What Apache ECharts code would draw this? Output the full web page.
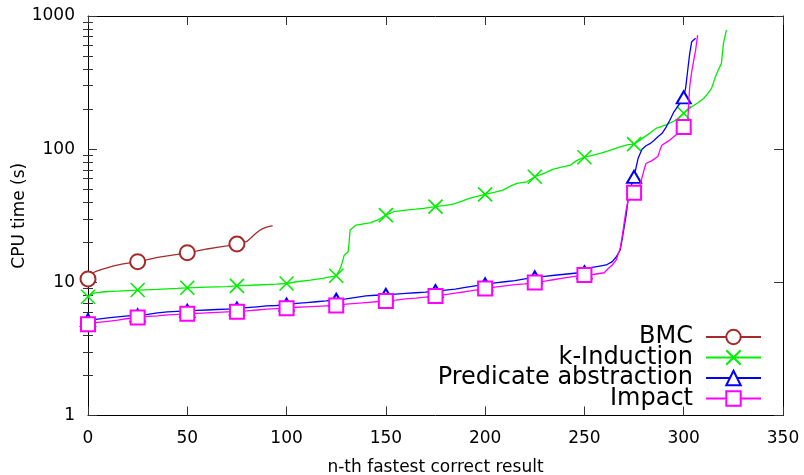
<!DOCTYPE html>
<html>
<head>
<meta charset="utf-8">
<script src="https://cdn.jsdelivr.net/npm/echarts@6/dist/echarts.min.js"></script>
<style>
html,body{margin:0;padding:0;background:#fff;}
#chart{width:804px;height:475px;}
</style>
</head>
<body>
<div id="chart"></div>
<script>
// ---- data (n-th result, CPU time in s) ----
const seriesNames = ['BMC', 'k-Induction', 'Predicate abstraction', 'Impact'];
const bmc = [[0,10.6],[2,11.6],[4,12.1],[7,12.5],[10,12.9],[13,13.3],[17,13.7],[21,14.0],[25,14.3],[30,14.8],[35,15.4],[40,15.8],[45,16.2],[50,16.7],[55,17.2],[60,17.8],[65,18.3],[70,18.8],[75,19.4],[78,19.9],[80,20.3],[82,21.5],[84,23.0],[86,24.3],[88,25.3],[90,26.0],[92,26.4],[93,26.5]];
const kInduction = [[0,7.8],[3,8.3],[8,8.5],[15,8.6],[25,8.75],[35,8.85],[45,9.0],[50,9.1],[60,9.2],[70,9.3],[75,9.4],[85,9.55],[95,9.7],[100,9.8],[105,10.1],[112,10.4],[118,10.7],[122,11.0],[125,11.2],[127,12.7],[128,14],[129,16],[131,17],[131.5,20],[132,24.7],[135,26.9],[142,28],[146,29.4],[150,32],[154,33.9],[160,34.8],[165,35.4],[169,35.9],[175,37],[180,37.8],[184,38.7],[188,40.5],[192,42.7],[200,45.8],[205,47.5],[209,49.3],[213,53],[216,55.3],[221,56.9],[225,62.1],[230,66],[234,70.5],[238,73],[243,76],[246,82],[250,87],[254,90],[258,93],[262,97],[268,104],[272,108],[275,109],[279,120],[283,132],[286,143],[291,152],[295,162],[297,170],[300,186],[304,208],[307,222],[310,240],[312,260],[314,286],[316,350],[317,381],[319,441],[320,623],[321.5,784]];
const predAbs = [[0,5.2],[5,5.3],[10,5.4],[15,5.5],[20,5.6],[25,5.65],[30,5.75],[35,5.9],[40,6.0],[45,6.05],[50,6.1],[55,6.15],[60,6.2],[65,6.25],[70,6.3],[75,6.35],[80,6.45],[85,6.55],[90,6.65],[95,6.7],[100,6.8],[105,6.95],[110,7.05],[115,7.15],[120,7.25],[125,7.4],[130,7.5],[135,7.7],[140,7.9],[145,8.0],[150,8.05],[155,8.15],[160,8.25],[165,8.35],[170,8.45],[175,8.6],[180,8.75],[185,8.9],[190,9.15],[195,9.4],[200,9.65],[205,9.9],[210,10.1],[215,10.3],[220,10.6],[225,10.9],[230,11.1],[235,11.3],[240,11.5],[245,11.7],[250,11.9],[253,12.9],[257,13.2],[261,13.5],[264,14.3],[266,15.5],[268,17.5],[269,21],[270,26],[271,32],[272,42],[273,50],[275,62],[277,85],[279,100],[281,106],[283,110],[285,116],[287,124],[289,131],[291,145],[293,165],[295,190],[297,210],[299,230],[300,245],[301,290],[302,390],[303,520],[304,640],[306,680]];
const impact = [[0,4.85],[5,5.0],[10,5.1],[15,5.2],[20,5.35],[25,5.45],[30,5.55],[35,5.6],[40,5.7],[45,5.75],[50,5.8],[55,5.85],[60,5.9],[65,5.95],[70,6.0],[75,6.02],[80,6.1],[85,6.2],[90,6.3],[95,6.35],[100,6.4],[105,6.5],[110,6.55],[115,6.6],[120,6.65],[125,6.7],[130,6.85],[135,6.95],[140,7.05],[145,7.15],[150,7.25],[155,7.35],[160,7.5],[165,7.6],[170,7.75],[175,7.9],[180,8.1],[185,8.3],[190,8.5],[195,8.75],[200,9.0],[205,9.2],[210,9.4],[215,9.6],[220,9.75],[225,9.95],[230,10.2],[235,10.5],[240,10.8],[245,11.1],[250,11.35],[255,11.5],[260,11.8],[262,12.7],[264,13.5],[266,14.7],[268,18],[269,22],[270,28],[271,35],[272,41.5],[275,47],[278,53.8],[280,69.7],[281,78],[284,82],[287,88],[288,98],[289,107],[291,112],[293,117],[295,124],[297,131],[300,147],[302,160],[303,294],[304,380],[305,460],[306,555],[307,719]];
const xTicks = [0, 50, 100, 150, 200, 250, 300, 350];
const yTicks = [1, 10, 100, 1000];
const yMinorTicks = [2,3,4,5,6,7,8,9,20,30,40,50,60,70,80,90,200,300,400,500,600,700,800,900];
const markerEvery = 25;

// ---- styling ----
const FONT = 'DejaVu Sans';
const colors = ['#a52a2a', '#00ee00', '#0000ff', '#ff00ff'];
const symbols = ['emptyCircle', 'path://M0,0L10,10M0,10L10,0', 'emptyTriangle', 'emptyRect'];
const symbolSizes = [15, 14, [14, 12], 14];
const datasets = [bmc, kInduction, predAbs, impact];

function toData(arr) {
  return arr.map(p => (p[0] % markerEvery === 0) ? {value: p} : {value: p, symbol: 'none'});
}

const tickStyle = {color: '#333', width: 1};
const series = datasets.map((d, i) => ({
  name: seriesNames[i],
  type: 'line',
  xAxisIndex: 0,
  yAxisIndex: 0,
  data: toData(d),
  symbol: symbols[i],
  symbolSize: symbolSizes[i],
  showSymbol: true,
  lineStyle: {color: colors[i], width: 1.3},
  itemStyle: {color: colors[i], borderColor: colors[i], borderWidth: 1.6},
  emphasis: {disabled: true},
  animation: false,
  z: 2 + i
}));

const minorLog = yMinorTicks.map(v => Math.log10(v));

const option = {
  animation: false,
  grid: {left: 88, right: 21, top: 16, bottom: 59.5, containLabel: false, outerBoundsMode: 'none'},
  xAxis: [
    {type: 'value', min: xTicks[0], max: xTicks[xTicks.length - 1], interval: 50, position: 'bottom',
     axisLine: {show: true, onZero: false, lineStyle: {color: '#000', width: 1}},
     axisTick: {show: true, inside: true, length: 9, lineStyle: tickStyle},
     axisLabel: {color: '#000', fontFamily: FONT, fontSize: 17, margin: 15},
     splitLine: {show: false},
     name: 'n-th fastest correct result', nameLocation: 'middle', nameGap: 44, nameMoveOverlap: false,
     nameTextStyle: {color: '#000', fontFamily: FONT, fontSize: 17}},
    {type: 'value', min: xTicks[0], max: xTicks[xTicks.length - 1], interval: 50, position: 'top',
     axisLine: {show: true, onZero: false, lineStyle: {color: '#000', width: 1}},
     axisTick: {show: true, inside: true, length: 9, lineStyle: tickStyle},
     axisLabel: {show: false}, splitLine: {show: false}}
  ],
  yAxis: [
    {type: 'log', logBase: 10, min: yTicks[0], max: yTicks[yTicks.length - 1], position: 'left',
     axisLine: {show: true, onZero: false, lineStyle: {color: '#000', width: 1}},
     axisTick: {show: true, inside: true, length: 9, lineStyle: tickStyle},
     axisLabel: {color: '#000', fontFamily: FONT, fontSize: 17, margin: 13, formatter: v => String(Math.round(v))},
     splitLine: {show: false}, minorTick: {show: false},
     name: 'CPU time (s)', nameLocation: 'middle', nameGap: 60, nameRotate: 90, nameMoveOverlap: false,
     nameTextStyle: {color: '#000', fontFamily: FONT, fontSize: 17}},
    {type: 'log', logBase: 10, min: yTicks[0], max: yTicks[yTicks.length - 1], position: 'right',
     axisLine: {show: true, onZero: false, lineStyle: {color: '#000', width: 1}},
     axisTick: {show: true, inside: true, length: 9, lineStyle: tickStyle},
     axisLabel: {show: false}, splitLine: {show: false}},
    {type: 'value', min: 0, max: 3, position: 'left',
     axisLine: {show: false},
     axisTick: {show: true, inside: true, length: 5, lineStyle: tickStyle, customValues: minorLog},
     axisLabel: {show: false}, splitLine: {show: false}},
    {type: 'value', min: 0, max: 3, position: 'right',
     axisLine: {show: false},
     axisTick: {show: true, inside: true, length: 5, lineStyle: tickStyle, customValues: minorLog},
     axisLabel: {show: false}, splitLine: {show: false}}
  ],
  legend: {
    show: true, orient: 'vertical', right: 37, top: 320, align: 'right',
    itemWidth: 55, itemHeight: 18, itemGap: -3.5, selectedMode: false,
    textStyle: {color: '#000', fontFamily: FONT, fontSize: 24, lineHeight: 20, padding: [0, 8, 0, 0]},
    data: seriesNames
  },
  series: series
};

const chart = echarts.init(document.getElementById('chart'), null, {renderer: 'canvas'});
chart.setOption(option);
</script>
</body>
</html>
